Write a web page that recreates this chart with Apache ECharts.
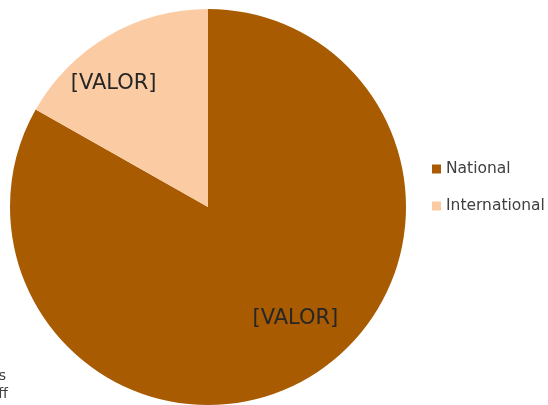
<!DOCTYPE html>
<html>
<head>
<meta charset="utf-8">
<script src="https://cdn.jsdelivr.net/npm/echarts@6/dist/echarts.min.js"></script>
<style>
  html, body { margin: 0; padding: 0; background: #fff; }
  #pieChart { width: 548px; height: 405px; }
</style>
</head>
<body>
<div id="pieChart"></div>
<script>
// 数据
const categories = ['National', 'International']
const values = [83.2, 16.8]
const labelText = '[VALOR]'
const colors = ['#A85B00', '#FBCCA4']
// label nudges (Excel best-fit places them off the midpoint)
const labelOffsets = [[36, 23], [-43, -35]]

const chartDom = document.getElementById('pieChart')
const myChart = echarts.init(chartDom)
const option = {
  animation: false,
  color: colors,
  legend: {
    orient: 'vertical',
    left: 427,
    top: 156,
    itemWidth: 9,
    itemHeight: 9,
    itemGap: 21,
    icon: 'rect',
    textStyle: {
      color: '#404040',
      fontSize: 15.5,
      fontFamily: 'DejaVu Sans'
    },
    data: categories
  },
  graphic: [
    {
      type: 'text',
      right: 542,
      top: 369,
      style: { text: 's', fill: '#404040', font: '14px DejaVu Sans', align: 'right' }
    },
    {
      type: 'text',
      right: 540,
      top: 387,
      style: { text: 'ff', fill: '#404040', font: '14px DejaVu Sans', align: 'right' }
    }
  ],
  series: [
    {
      type: 'pie',
      center: [208, 207],
      radius: [0, 198],
      startAngle: 90,
      clockwise: true,
      avoidLabelOverlap: false,
      itemStyle: {
        borderColor: '#fff',
        borderWidth: 0
      },
      label: {
        show: true,
        position: 'inside',
        formatter: labelText,
        color: '#262626',
        fontSize: 21,
        fontFamily: 'DejaVu Sans'
      },
      labelLine: { show: false },
      data: categories.map((name, i) => ({
        name: name,
        value: values[i],
        label: { offset: labelOffsets[i] }
      }))
    }
  ]
}
option && myChart.setOption(option)
</script>
</body>
</html>
